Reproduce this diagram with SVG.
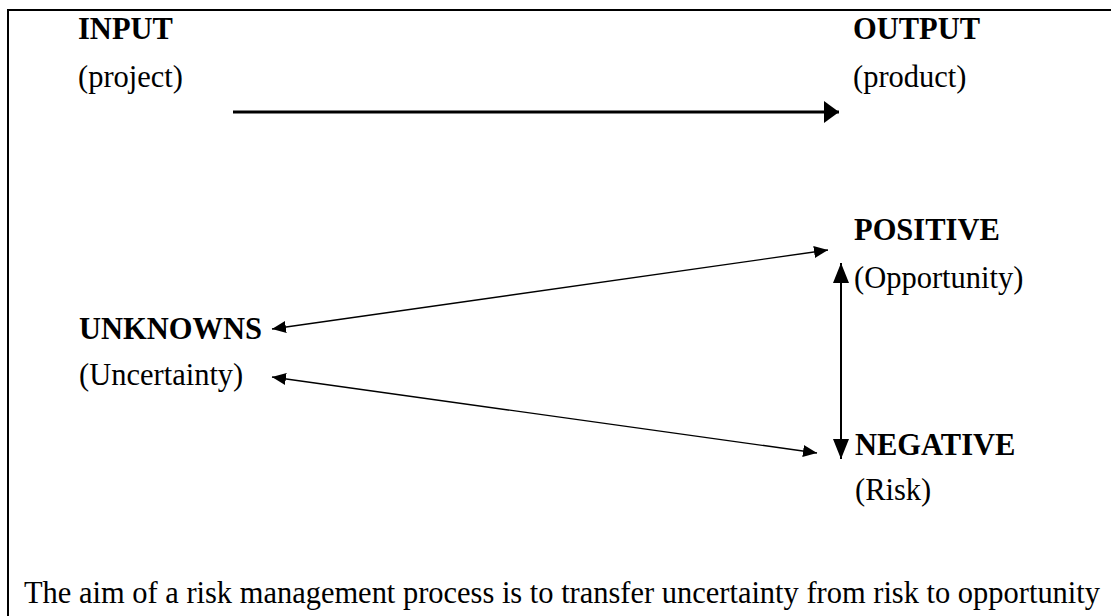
<svg xmlns="http://www.w3.org/2000/svg" width="1111" height="616" viewBox="0 0 1111 616">
<style>
.t{font-family:"Liberation Serif","Times New Roman",serif;font-size:30.5px;fill:#000}
.b{font-weight:bold}
.ln{stroke:#000;fill:none}
</style>
<defs>
<marker id="hBig" markerUnits="userSpaceOnUse" markerWidth="15" markerHeight="22" refX="15" refY="11" orient="auto"><path d="M0,0 L15,11 L0,22 Z" fill="#000"/></marker>
<marker id="hV" markerUnits="userSpaceOnUse" markerWidth="20" markerHeight="16" refX="20" refY="8" orient="auto-start-reverse"><path d="M0,0 L20,8 L0,16 Z" fill="#000"/></marker>
<marker id="hS" markerUnits="userSpaceOnUse" markerWidth="14" markerHeight="12" refX="14" refY="6" orient="auto-start-reverse"><path d="M0,0 L14,6 L0,12 Z" fill="#000"/></marker>
</defs>
<rect width="1111" height="616" fill="#fff"/>
<path class="ln" stroke-width="2" d="M8,616 V10 H1111"/>
<g id="input"><text class="t b" x="78" y="39">INPUT</text><text class="t" x="78" y="87">(project)</text></g>
<g id="output"><text class="t b" x="853" y="39">OUTPUT</text><text class="t" x="853" y="87">(product)</text></g>
<g id="positive"><text class="t b" x="854" y="240">POSITIVE</text><text class="t" x="854" y="288">(Opportunity)</text></g>
<g id="unknowns"><text class="t b" x="79" y="339">UNKNOWNS</text><text class="t" x="79" y="385">(Uncertainty)</text></g>
<g id="negative"><text class="t b" x="855" y="455">NEGATIVE</text><text class="t" x="855" y="500">(Risk)</text></g>
<g id="connectors">
<line class="ln" stroke-width="3" x1="233" y1="112" x2="839" y2="112" marker-end="url(#hBig)"/>
<line class="ln" stroke-width="2" x1="841" y1="263" x2="841" y2="459" marker-start="url(#hV)" marker-end="url(#hV)"/>
<line class="ln" stroke-width="1.4" x1="272" y1="329" x2="828" y2="250" marker-start="url(#hS)" marker-end="url(#hS)"/>
<line class="ln" stroke-width="1.4" x1="272" y1="377" x2="817" y2="453" marker-start="url(#hS)" marker-end="url(#hS)"/>
</g>
<text class="t" x="24" y="603" textLength="1076" lengthAdjust="spacingAndGlyphs">The aim of a risk management process is to transfer uncertainty from risk to opportunity</text>
</svg>
